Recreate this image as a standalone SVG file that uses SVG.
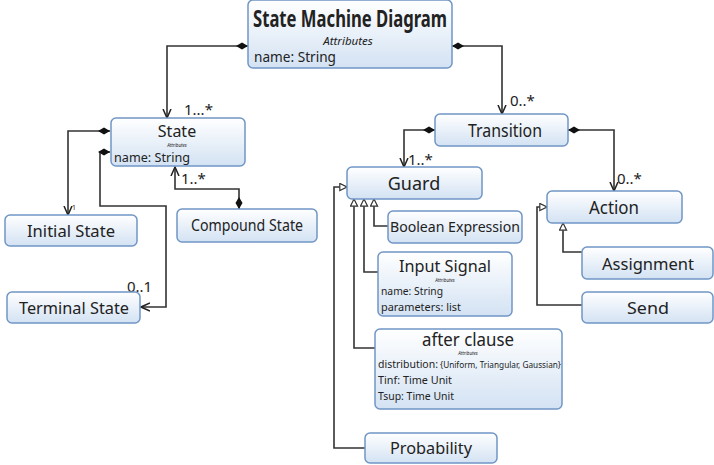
<svg xmlns="http://www.w3.org/2000/svg" width="714" height="465" viewBox="0 0 714 465">
<defs>
<linearGradient id="g" x1="0" y1="0" x2="0" y2="1">
<stop offset="0" stop-color="#ffffff"/>
<stop offset="1" stop-color="#d3e2f3"/>
</linearGradient>
<marker id="dia" viewBox="0 0 12 8" refX="0" refY="4" markerWidth="12" markerHeight="8" markerUnits="userSpaceOnUse" orient="auto">
<path d="M0,4 L6,0.5 L12,4 L6,7.5 Z" fill="#111"/>
</marker>
<marker id="arr" viewBox="0 0 10 10" refX="9" refY="5" markerWidth="10" markerHeight="10" markerUnits="userSpaceOnUse" orient="auto">
<path d="M0,1 L9,5 L0,9" fill="none" stroke="#222" stroke-width="1.5"/>
</marker>
<marker id="tri" viewBox="0 0 10 10" refX="9" refY="5" markerWidth="9" markerHeight="9" markerUnits="userSpaceOnUse" orient="auto">
<path d="M1,1 L9,5 L1,9 Z" fill="#fff" stroke="#333" stroke-width="1.3"/>
</marker>
</defs>
<style>
.box{fill:url(#g);stroke:#7096c6;stroke-width:1.5}
.t{font-family:"Noto Sans","Open Sans",sans-serif;fill:#222}
.c{text-anchor:middle}
.attr{font-style:italic}
.ln{fill:none;stroke:#333;stroke-width:1.6}
.as{marker-start:url(#dia);marker-end:url(#arr)}
.ge{marker-end:url(#tri)}
</style>

<g id="connectors">
<path class="ln as" d="M248,46 H167 V118"/>
<path class="ln as" d="M452,46 H502 V114"/>
<path class="ln as" d="M110,131 H68 V215"/>
<path class="ln as" d="M110,152 H100 V206 H166 V307 H141"/>
<path class="ln as" d="M239,209 V189 H175 V167"/>
<path class="ln as" d="M435,130 H404 V167"/>
<path class="ln as" d="M568,130 H614 V191"/>
<path class="ln ge" d="M388,226 H374 V199"/>
<path class="ln ge" d="M378,272 H364 V199"/>
<path class="ln ge" d="M375,348 H354 V199"/>
<path class="ln ge" d="M365,448 H334 V187 H347"/>
<path class="ln ge" d="M582,252 H563 V223"/>
<path class="ln ge" d="M582,305 H537 V207 H547"/>
<text class="t" x="184" y="115" font-size="15">1...*</text>
<text class="t" x="510" y="106" font-size="15">0..*</text>
<text class="t" x="72" y="210" font-size="7">1</text>
<text class="t" x="127" y="292" font-size="15">0..1</text>
<text class="t" x="181" y="184" font-size="15">1..*</text>
<text class="t" x="408" y="165" font-size="15">1..*</text>
<text class="t" x="617" y="184" font-size="15">0..*</text>
</g>

<g id="state-machine-diagram">
<rect class="box" x="248" y="0" width="204" height="68" rx="5"/>
<text class="t c" x="350" y="27" font-size="23" font-weight="bold" textLength="194" lengthAdjust="spacingAndGlyphs">State Machine Diagram</text>
<text class="t c attr" x="348" y="45" font-size="11.5">Attributes</text>
<text class="t" x="254" y="61.5" font-size="14" textLength="82" lengthAdjust="spacingAndGlyphs">name: String</text>
</g>

<g id="state">
<rect class="box" x="111" y="118" width="134" height="48" rx="5"/>
<text class="t c" x="177" y="137" font-size="16">State</text>
<text class="t c attr" x="177" y="146.5" font-size="4.5">Attributes</text>
<text class="t" x="114" y="161.5" font-size="12.5" textLength="76" lengthAdjust="spacingAndGlyphs">name: String</text>
</g>

<g id="initial-state">
<rect class="box" x="5" y="215" width="132" height="31" rx="5"/>
<text class="t c" x="71" y="237" font-size="16" textLength="88" lengthAdjust="spacingAndGlyphs">Initial State</text>
</g>

<g id="terminal-state">
<rect class="box" x="7" y="292" width="133" height="31" rx="5"/>
<text class="t c" x="74" y="314" font-size="16" textLength="110" lengthAdjust="spacingAndGlyphs">Terminal State</text>
</g>

<g id="compound-state">
<rect class="box" x="177" y="209" width="140" height="33" rx="5"/>
<text class="t c" x="247" y="231" font-size="16" textLength="112" lengthAdjust="spacingAndGlyphs">Compound State</text>
</g>

<g id="transition">
<rect class="box" x="435" y="114" width="133" height="32" rx="5"/>
<text class="t c" x="505" y="137" font-size="18" textLength="74" lengthAdjust="spacingAndGlyphs">Transition</text>
</g>

<g id="guard">
<rect class="box" x="347" y="167" width="135" height="32" rx="5"/>
<text class="t c" x="414" y="190" font-size="18">Guard</text>
</g>

<g id="boolean-expression">
<rect class="box" x="388" y="211" width="134" height="32" rx="5"/>
<text class="t c" x="455" y="232" font-size="14" textLength="130" lengthAdjust="spacingAndGlyphs">Boolean Expression</text>
</g>

<g id="input-signal">
<rect class="box" x="378" y="252" width="134" height="64" rx="5"/>
<text class="t c" x="445" y="271.5" font-size="16.5" textLength="92" lengthAdjust="spacingAndGlyphs">Input Signal</text>
<text class="t c attr" x="445" y="282" font-size="4.5">Attributes</text>
<text class="t" x="381" y="294.5" font-size="11.5" textLength="62" lengthAdjust="spacingAndGlyphs">name: String</text>
<text class="t" x="381" y="310.5" font-size="11.5" textLength="80" lengthAdjust="spacingAndGlyphs">parameters: list</text>
</g>

<g id="after-clause">
<rect class="box" x="375" y="329" width="187" height="80" rx="5"/>
<text class="t c" x="468" y="346" font-size="17.5" textLength="92" lengthAdjust="spacingAndGlyphs">after clause</text>
<text class="t c attr" x="468" y="355" font-size="4.5">Attributes</text>
<text class="t" x="378" y="367.5" font-size="11.5"><tspan textLength="60" lengthAdjust="spacingAndGlyphs">distribution:</tspan><tspan font-size="8.5" dx="2" textLength="121" lengthAdjust="spacingAndGlyphs">{Uniform, Triangular, Gaussian}</tspan></text>
<text class="t" x="378" y="383.5" font-size="11.5" textLength="74" lengthAdjust="spacingAndGlyphs">Tinf: Time Unit</text>
<text class="t" x="378" y="399.5" font-size="11.5" textLength="76" lengthAdjust="spacingAndGlyphs">Tsup: Time Unit</text>
</g>

<g id="probability">
<rect class="box" x="365" y="433" width="132" height="30" rx="5"/>
<text class="t c" x="431" y="454" font-size="17" textLength="82" lengthAdjust="spacingAndGlyphs">Probability</text>
</g>

<g id="action">
<rect class="box" x="547" y="191" width="135" height="32" rx="5"/>
<text class="t c" x="614" y="214" font-size="18" textLength="50" lengthAdjust="spacingAndGlyphs">Action</text>
</g>

<g id="assignment">
<rect class="box" x="582" y="247" width="131" height="32" rx="5"/>
<text class="t c" x="648" y="270" font-size="17" textLength="92" lengthAdjust="spacingAndGlyphs">Assignment</text>
</g>

<g id="send">
<rect class="box" x="582" y="292" width="131" height="31" rx="5"/>
<text class="t c" x="648" y="314" font-size="17" textLength="42" lengthAdjust="spacingAndGlyphs">Send</text>
</g>
</svg>
